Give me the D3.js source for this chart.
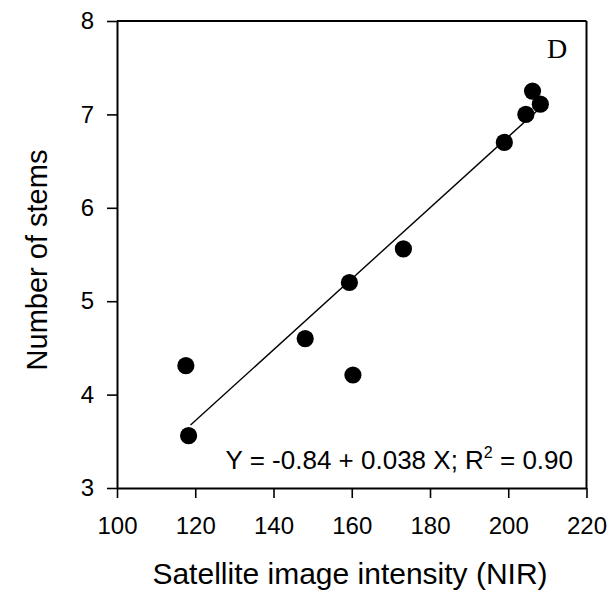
<!DOCTYPE html>
<html>
<head>
<meta charset="utf-8">
<script src="https://cdn.jsdelivr.net/npm/d3@7"></script>
<style>
  html, body { margin: 0; padding: 0; background: #fff; }
  svg { display: block; }
  text { font-family: "Liberation Sans", Arial, sans-serif; fill: #000; }
</style>
</head>
<body>
<svg id="chart" width="609" height="598"></svg>
<script>
// Data
const nirIntensity = [117.6, 118.3, 148.1, 159.4, 160.3, 173.2, 199.0, 204.5, 206.2, 208.2];
const numStems     = [4.31, 3.56, 4.60, 5.20, 4.21, 5.56, 6.70, 7.00, 7.25, 7.11];
const xTicks = [100, 120, 140, 160, 180, 200, 220];
const yTicks = [3, 4, 5, 6, 7, 8];
const fitIntercept = -0.84;
const fitSlope = 0.038;
const fitRange = [118.8, 208.0];
const equationParts = ["Y = -0.84 + 0.038 X; R", "2", " = 0.90"];
const panelLabel = "D";
const xTitle = "Satellite image intensity (NIR)";
const yTitle = "Number of stems";

const svg = d3.select("#chart");
const pLeft = 117, pRight = 586.5, pTop = 21, pBottom = 488;

const x = d3.scaleLinear().domain([100, 220]).range([pLeft, pRight]);
const y = d3.scaleLinear().domain([3, 8]).range([pBottom, pTop]);

// frame (top and right)
svg.append("line").attr("x1", pLeft).attr("x2", pRight).attr("y1", pTop).attr("y2", pTop)
  .attr("stroke", "#000").attr("stroke-width", 2);
svg.append("line").attr("x1", pRight).attr("x2", pRight).attr("y1", pTop).attr("y2", pBottom)
  .attr("stroke", "#000").attr("stroke-width", 2);

const xAxis = svg.append("g").attr("transform", `translate(0,${pBottom})`)
  .call(d3.axisBottom(x).tickValues(xTicks).tickFormat(d3.format("d"))
    .tickSize(10).tickPadding(19).tickSizeOuter(0));
const yAxis = svg.append("g").attr("transform", `translate(${pLeft},0)`)
  .call(d3.axisLeft(y).tickValues(yTicks).tickFormat(d3.format("d"))
    .tickSize(10).tickPadding(13).tickSizeOuter(0));

[xAxis, yAxis].forEach(g => {
  g.attr("font-size", 24).attr("font-family", "'Liberation Sans', Arial, sans-serif");
  g.select(".domain").attr("stroke", "#000").attr("stroke-width", 2);
  g.selectAll(".tick line").attr("stroke", "#000").attr("stroke-width", 1.6);
  g.selectAll(".tick text").attr("fill", "#000");
});

// regression line
const line = d3.line().x(d => x(d)).y(d => y(fitIntercept + fitSlope * d));
svg.append("path").datum(fitRange).attr("d", line)
  .attr("fill", "none").attr("stroke", "#000").attr("stroke-width", 1.4);

// points
svg.append("g").selectAll("circle").data(d3.range(nirIntensity.length)).join("circle")
  .attr("cx", i => x(nirIntensity[i])).attr("cy", i => y(numStems[i]))
  .attr("r", 8.6).attr("fill", "#000");

// equation
const eq = svg.append("text").attr("x", 573).attr("y", 469)
  .attr("text-anchor", "end").attr("font-size", 26);
eq.append("tspan").text(equationParts[0]);
eq.append("tspan").attr("font-size", 16).attr("dy", -11).text(equationParts[1]);
eq.append("tspan").attr("dy", 11).text(equationParts[2]);

// panel label
svg.append("text").attr("x", 547).attr("y", 58)
  .style("font-family", "'Liberation Serif', 'Times New Roman', serif")
  .attr("font-size", 28).text(panelLabel);

// axis titles
svg.append("text").attr("x", 350).attr("y", 584)
  .attr("text-anchor", "middle").attr("font-size", 30).text(xTitle);
svg.append("text").attr("transform", `translate(47,260) rotate(-90)`)
  .attr("text-anchor", "middle").attr("font-size", 29).text(yTitle);
</script>
</body>
</html>
